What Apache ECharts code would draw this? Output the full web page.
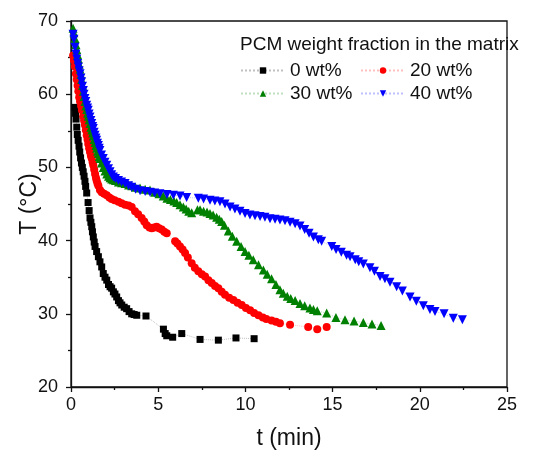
<!DOCTYPE html>
<html>
<head>
<meta charset="utf-8">
<script src="https://cdn.jsdelivr.net/npm/echarts@6/dist/echarts.min.js"></script>
<style>
  html, body { margin: 0; padding: 0; background: #fff; }
  #chart { width: 542px; height: 450px; }
</style>
</head>
<body>
<div id="chart"></div>
<script>
// cooling curves: time (min) and temperature (°C)
const t0 = [0.23, 0.26, 0.29, 0.33, 0.36, 0.41, 0.46, 0.5, 0.55, 0.6, 0.65, 0.7, 0.75, 0.8, 0.84, 0.9, 0.98, 1.04, 1.09, 1.14, 1.19, 1.23, 1.28, 1.33, 1.38, 1.47, 1.57, 1.66, 1.76, 1.85, 1.95, 2.05, 2.15, 2.24, 2.33, 2.43, 2.52, 2.62, 2.72, 2.81, 2.91, 3.05, 3.19, 3.33, 3.48, 3.62, 3.77, 4.3, 5.3, 5.4, 5.49, 5.83, 6.35, 7.4, 8.45, 9.46, 10.5];
const T0 = [58.2, 57.4, 56.6, 55.5, 54.5, 53.7, 52.9, 52.1, 51.3, 50.6, 50.0, 49.4, 48.8, 48.1, 47.4, 46.5, 45.2, 44.1, 43.1, 42.5, 41.9, 41.2, 40.5, 39.8, 39.2, 38.5, 37.8, 37.1, 36.4, 35.5, 35.0, 34.6, 34.0, 33.7, 33.5, 33.0, 32.7, 32.3, 31.8, 31.5, 31.2, 30.9, 30.7, 30.3, 30.0, 29.9, 29.8, 29.7, 27.9, 27.3, 27.0, 26.8, 27.3, 26.5, 26.4, 26.7, 26.6];

const t20 = [0.12, 0.17, 0.22, 0.28, 0.33, 0.38, 0.42, 0.47, 0.52, 0.58, 0.63, 0.7, 0.75, 0.8, 0.85, 0.9, 0.95, 0.99, 1.04, 1.09, 1.14, 1.19, 1.24, 1.28, 1.33, 1.38, 1.43, 1.47, 1.52, 1.57, 1.66, 1.76, 1.9, 2.05, 2.2, 2.33, 2.5, 2.72, 2.9, 3.1, 3.3, 3.48, 3.67, 3.85, 4.05, 4.2, 4.34, 4.5, 4.63, 4.77, 4.91, 5.05, 5.2, 5.35, 5.49, 5.97, 6.1, 6.25, 6.4, 6.54, 6.7, 6.92, 7.1, 7.3, 7.5, 7.69, 7.88, 8.07, 8.26, 8.45, 8.64, 8.83, 9.07, 9.31, 9.55, 9.79, 10.03, 10.27, 10.5, 10.75, 11.0, 11.2, 11.5, 11.75, 11.98, 12.56, 13.6, 14.12, 14.66];
const T20 = [65.3, 64.6, 63.8, 62.8, 62.0, 61.2, 60.4, 59.6, 59.0, 58.4, 57.8, 57.0, 56.4, 55.8, 55.1, 54.4, 53.8, 53.2, 52.6, 52.1, 51.6, 51.2, 50.7, 50.3, 49.7, 49.1, 48.6, 48.2, 47.8, 47.5, 46.9, 46.6, 46.4, 46.2, 45.9, 45.7, 45.5, 45.3, 45.1, 44.9, 44.8, 44.6, 44.0, 43.6, 43.1, 42.6, 42.1, 41.8, 41.7, 41.8, 41.9, 41.7, 41.5, 41.2, 41.0, 39.9, 39.6, 39.2, 38.8, 38.3, 37.7, 36.9, 36.3, 35.8, 35.4, 35.1, 34.6, 34.2, 33.8, 33.5, 33.0, 32.6, 32.2, 31.9, 31.5, 31.2, 30.8, 30.5, 30.1, 29.8, 29.5, 29.3, 29.1, 28.9, 28.7, 28.5, 28.2, 27.9, 28.2];

const t30 = [0.12, 0.17, 0.23, 0.28, 0.33, 0.38, 0.42, 0.47, 0.52, 0.57, 0.61, 0.66, 0.71, 0.75, 0.8, 0.85, 0.9, 0.95, 0.99, 1.04, 1.09, 1.14, 1.19, 1.24, 1.28, 1.33, 1.38, 1.43, 1.47, 1.52, 1.57, 1.62, 1.66, 1.75, 1.85, 1.95, 2.05, 2.15, 2.24, 2.33, 2.43, 2.55, 2.72, 2.9, 3.1, 3.3, 3.48, 3.7, 3.96, 4.25, 4.53, 4.8, 5.05, 5.29, 5.5, 5.7, 5.9, 6.06, 6.25, 6.44, 6.6, 6.75, 6.92, 7.25, 7.4, 7.6, 7.8, 7.97, 8.15, 8.35, 8.5, 8.64, 8.8, 9.02, 9.25, 9.5, 9.75, 9.98, 10.2, 10.45, 10.75, 11.03, 11.25, 11.5, 11.75, 11.98, 12.17, 12.4, 12.6, 12.85, 13.13, 13.4, 13.7, 13.9, 14.12, 14.66, 15.19, 15.71, 16.23, 16.76, 17.26, 17.78];
const T30 = [69.0, 68.4, 67.6, 66.8, 66.1, 65.4, 64.8, 64.1, 63.4, 62.7, 62.0, 61.2, 60.4, 59.7, 59.0, 58.4, 57.9, 57.4, 57.0, 56.5, 56.0, 55.5, 55.1, 54.7, 54.3, 53.8, 53.4, 53.0, 52.6, 52.2, 51.9, 51.5, 51.2, 50.6, 50.0, 49.5, 49.1, 48.8, 48.6, 48.4, 48.3, 48.2, 48.0, 47.9, 47.8, 47.6, 47.5, 47.3, 47.2, 47.0, 46.9, 46.6, 46.4, 46.1, 45.8, 45.6, 45.4, 45.2, 44.9, 44.6, 44.3, 44.0, 43.8, 44.2, 44.2, 44.0, 43.9, 43.7, 43.5, 43.2, 42.9, 42.6, 42.1, 41.3, 40.6, 39.9, 39.2, 38.5, 38.0, 37.4, 36.7, 36.0, 35.4, 34.8, 34.0, 33.3, 32.8, 32.4, 32.1, 31.8, 31.4, 31.1, 30.8, 30.6, 30.4, 30.1, 29.5, 29.2, 29.0, 28.8, 28.6, 28.4];

const t40 = [0.12, 0.17, 0.23, 0.28, 0.33, 0.38, 0.42, 0.47, 0.52, 0.57, 0.61, 0.66, 0.71, 0.75, 0.8, 0.85, 0.9, 0.95, 0.99, 1.04, 1.09, 1.14, 1.19, 1.24, 1.28, 1.33, 1.38, 1.43, 1.47, 1.52, 1.57, 1.62, 1.66, 1.75, 1.85, 1.95, 2.05, 2.15, 2.24, 2.33, 2.43, 2.55, 2.72, 2.9, 3.1, 3.3, 3.48, 3.7, 3.96, 4.25, 4.53, 4.8, 5.1, 5.5, 5.87, 6.25, 6.63, 7.3, 7.6, 7.97, 8.25, 8.54, 8.83, 9.12, 9.4, 9.69, 9.98, 10.26, 10.55, 10.84, 11.12, 11.41, 11.7, 11.98, 12.27, 12.56, 12.85, 13.13, 13.4, 13.65, 13.9, 14.18, 14.37, 14.95, 15.2, 15.5, 15.8, 16.0, 16.3, 16.5, 16.76, 17.14, 17.4, 17.72, 18.0, 18.29, 18.67, 19.0, 19.44, 19.8, 20.2, 20.58, 20.87, 21.39, 21.92, 22.44];
const T40 = [68.2, 67.5, 66.4, 65.5, 64.8, 64.2, 63.7, 63.2, 62.8, 62.2, 61.7, 61.1, 60.5, 60.0, 59.4, 59.0, 58.5, 58.1, 57.8, 57.3, 56.9, 56.4, 56.0, 55.6, 55.3, 54.8, 54.4, 54.0, 53.7, 53.3, 53.0, 52.6, 52.3, 51.7, 51.2, 50.7, 50.3, 49.8, 49.4, 49.0, 48.7, 48.5, 48.2, 48.0, 47.8, 47.5, 47.3, 47.0, 46.8, 46.7, 46.6, 46.5, 46.4, 46.3, 46.2, 46.1, 45.9, 45.8, 45.7, 45.5, 45.4, 45.3, 45.0, 44.6, 44.3, 44.0, 43.7, 43.5, 43.4, 43.3, 43.2, 43.0, 42.9, 42.8, 42.7, 42.5, 42.3, 42.0, 41.5, 41.0, 40.5, 40.1, 39.9, 39.2, 38.8, 38.4, 38.0, 37.8, 37.4, 37.1, 36.8, 36.3, 35.8, 35.1, 34.8, 34.3, 33.7, 33.1, 32.3, 31.7, 31.1, 30.6, 30.3, 30.0, 29.4, 29.2];

const seriesNames = ["0 wt%", "20 wt%", "30 wt%", "40 wt%"];
const legendTitle = "PCM weight fraction in the matrix";

const FONT = "'Liberation Sans', Arial, sans-serif";
const chart = echarts.init(document.getElementById("chart"));

const zip = (xs, ys) => xs.map((x, i) => [x, ys[i]]);

const makeSeries = (name, xs, ys, symbol, size, color, lineColor) => ({
  name: name,
  type: "line",
  data: zip(xs, ys),
  symbol: symbol,
  symbolSize: size,
  showAllSymbol: true,
  itemStyle: { color: color },
  lineStyle: { color: lineColor, width: 1, type: "dotted" },
  emphasis: { disabled: true },
  animation: false,
});

const legendAt = (name, left, top) => ({
  data: [name],
  left: left,
  top: top,
  itemWidth: 44,
  itemHeight: 8,
  itemGap: 0,
  selectedMode: false,
  textStyle: { fontFamily: FONT, fontSize: 19, color: "#111" },
});

const option = {
  backgroundColor: "#fff",
  title: {
    text: legendTitle,
    left: 235,
    top: 30,
    textStyle: { fontFamily: FONT, fontSize: 19, fontWeight: "normal", color: "#111" },
  },
  legend: [
    legendAt(seriesNames[0], 235, 56),
    legendAt(seriesNames[1], 355, 56),
    legendAt(seriesNames[2], 235, 79),
    legendAt(seriesNames[3], 355, 79),
  ],
  grid: {
    left: 71,
    right: 35,
    top: 21,
    bottom: 63,
    show: true,
    borderColor: "#111",
    borderWidth: 1.3,
    containLabel: false,
    outerBoundsMode: "none",
  },
  xAxis: {
    type: "value",
    min: 0,
    max: 25,
    interval: 5,
    name: "t (min)",
    nameLocation: "middle",
    nameGap: 40,
    nameTextStyle: { fontFamily: FONT, fontSize: 23, color: "#111" },
    axisLine: { show: true, lineStyle: { color: "#111", width: 1.3 } },
    axisTick: { show: true, inside: false, length: 5, lineStyle: { color: "#111", width: 1.3 } },
    minorTick: { show: true, splitNumber: 2, length: 3, lineStyle: { color: "#111", width: 1.3 } },
    axisLabel: { fontFamily: FONT, fontSize: 18, color: "#111", margin: 9 },
    splitLine: { show: false },
  },
  yAxis: {
    type: "value",
    min: 20,
    max: 70,
    interval: 10,
    name: "T (°C)",
    nameLocation: "middle",
    nameGap: 30,
    nameRotate: 90,
    nameMoveOverlap: false,
    nameTextStyle: { fontFamily: FONT, fontSize: 23, color: "#111" },
    axisLine: { show: true, lineStyle: { color: "#111", width: 1.3 } },
    axisTick: { show: true, inside: false, length: 5, lineStyle: { color: "#111", width: 1.3 } },
    minorTick: { show: true, splitNumber: 2, length: 3, lineStyle: { color: "#111", width: 1.3 } },
    axisLabel: { fontFamily: FONT, fontSize: 18, color: "#111", margin: 13 },
    splitLine: { show: false },
  },
  series: [
    makeSeries(seriesNames[0], t0, T0, "rect", 7, "#000000", "rgba(0,0,0,0.25)"),
    makeSeries(seriesNames[1], t20, T20, "circle", 8, "#ff0000", "rgba(255,0,0,0.25)"),
    makeSeries(seriesNames[2], t30, T30, "triangle", 9, "#008000", "rgba(0,128,0,0.25)"),
    makeSeries(seriesNames[3], t40, T40, "path://M0,0L10,0L5,9Z", 9, "#0000ff", "rgba(0,0,255,0.25)"),
  ],
};

chart.setOption(option);
</script>
</body>
</html>
